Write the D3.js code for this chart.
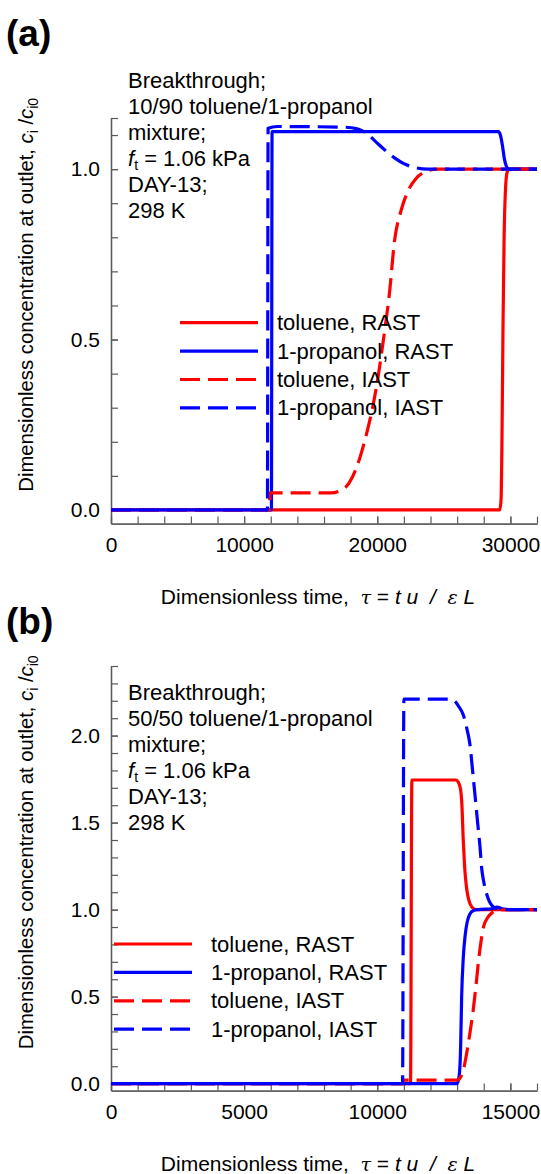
<!DOCTYPE html>
<html>
<head>
<meta charset="utf-8">
<script src="https://cdn.jsdelivr.net/npm/d3@7"></script>
<style>
  html, body { margin: 0; padding: 0; background: #fff; }
  svg { display: block; font-family: "Liberation Sans", Arial, sans-serif; }
  text { white-space: pre; }
</style>
</head>
<body>
<svg id="fig" width="541" height="1174"></svg>
<script>
// ---- Panel (a): 10/90 toluene/1-propanol breakthrough, points are [tau, c/c0]
const aTolueneRAST = [[0,0],[29200,0],[29300,0.03],[29380,0.25],[29450,0.55],[29530,0.8],[29620,0.93],[29750,0.99],[29900,1.0],[32000,1.0]];
const aPropanolRAST = [[0,0],[12050,0],[12100,1.11],[29100,1.11],[29250,1.1],[29400,1.07],[29550,1.03],[29700,1.008],[29900,1.0],[32000,1.0]];
const aTolueneIAST = [[0,0],[11900,0],[11950,0.05],[16500,0.05],[17300,0.058],[17900,0.08],[18400,0.12],[18900,0.18],[19300,0.24],[19700,0.31],[20100,0.40],[20500,0.51],[20900,0.63],[21300,0.79],[21800,0.88],[22300,0.935],[22900,0.972],[23500,0.99],[24500,1.0],[32000,1.0]];
const aPropanolIAST = [[0,0],[11750,0],[11800,1.12],[12500,1.125],[17500,1.123],[18500,1.118],[19200,1.105],[19900,1.08],[20600,1.055],[21300,1.033],[22000,1.016],[22800,1.005],[23800,1.0],[32000,1.0]];

// ---- Panel (b): 50/50 toluene/1-propanol breakthrough
const bTolueneRAST = [[0,0],[11250,0],[11300,1.745],[12950,1.745],[13050,1.73],[13130,1.69],[13180,1.6],[13230,1.4],[13280,1.25],[13350,1.13],[13430,1.06],[13550,1.015],[13700,1.0],[16000,1.0]];
const bPropanolRAST = [[0,0],[13000,0],[13080,0.05],[13130,0.2],[13170,0.5],[13230,0.72],[13300,0.85],[13380,0.93],[13480,0.975],[13620,0.995],[13800,1.0],[14300,1.005],[14500,1.015],[14700,1.005],[15000,1.0],[16000,1.0]];
const bTolueneIAST = [[0,0],[10950,0],[11000,0.02],[13000,0.02],[13200,0.06],[13330,0.15],[13470,0.28],[13610,0.43],[13720,0.58],[13800,0.70],[13900,0.82],[13990,0.9],[14150,0.955],[14300,0.98],[14600,0.997],[15000,1.0],[16000,1.0]];
const bPropanolIAST = [[0,0],[10950,0],[11000,2.21],[12700,2.21],[12900,2.2],[13050,2.17],[13230,2.12],[13380,2.03],[13480,1.95],[13580,1.8],[13670,1.66],[13770,1.5],[13860,1.36],[13920,1.24],[14000,1.16],[14110,1.09],[14200,1.05],[14300,1.025],[14450,1.008],[14700,1.0],[16000,1.0]];

// ---- Tick values
const aXMajor = [0, 10000, 20000, 30000];
const aXMinor = d3.range(0, 32001, 2000);
const aYMajor = [0, 0.5, 1.0];
const aYMinor = d3.range(0, 1.11, 0.1).concat([1.15]);
const bXMajor = [0, 5000, 10000, 15000];
const bXMinor = d3.range(0, 16001, 1000);
const bYMajor = [0, 0.5, 1.0, 1.5, 2.0];
const bYMinor = d3.range(0, 2.41, 0.1);

// ---- Series labels and annotation lines
const seriesNames = ["toluene, RAST", "1-propanol, RAST", "toluene, IAST", "1-propanol, IAST"];
const aNoteLines = ["Breakthrough;", "10/90 toluene/1-propanol", "mixture;", "FT", "DAY-13;", "298 K"];
const bNoteLines = ["Breakthrough;", "50/50 toluene/1-propanol", "mixture;", "FT", "DAY-13;", "298 K"];

const RED = "#ff0000", BLUE = "#0000ff";
const styles = [
  { color: RED,  dash: null },
  { color: BLUE, dash: null },
  { color: RED,  dash: "20,8" },
  { color: BLUE, dash: "20,8" }
];

const svg = d3.select("#fig");

function drawPanel(cfg) {
  const x = d3.scaleLinear().domain(cfg.xDomain).range([cfg.left, cfg.right]);
  const y = d3.scaleLinear().domain(cfg.yDomain).range([cfg.bottom, cfg.top]);
  const g = svg.append("g");

  // panel letter
  g.append("text").attr("x", 6).attr("y", cfg.letterY)
    .attr("font-size", 37).attr("font-weight", "bold").text(cfg.letter);

  // x axis: minor ticks then labelled ticks, all pointing inward
  const xMinor = g.append("g").attr("transform", `translate(0,${cfg.bottom})`)
    .call(d3.axisBottom(x).tickValues(cfg.xMinor).tickSize(-7).tickSizeOuter(0).tickFormat(""));
  const xMajor = g.append("g").attr("transform", `translate(0,${cfg.bottom})`)
    .call(d3.axisBottom(x).tickValues(cfg.xMajor).tickSize(-7).tickSizeOuter(0).tickPadding(13).tickFormat(d3.format("d")));
  const yMinor = g.append("g").attr("transform", `translate(${cfg.left},0)`)
    .call(d3.axisLeft(y).tickValues(cfg.yMinor).tickSize(-7).tickSizeOuter(0).tickFormat(""));
  const yMajor = g.append("g").attr("transform", `translate(${cfg.left},0)`)
    .call(d3.axisLeft(y).tickValues(cfg.yMajor).tickSize(-7).tickSizeOuter(0).tickPadding(11).tickFormat(d3.format(".1f")));
  [xMinor, xMajor, yMinor, yMajor].forEach(ax => {
    ax.selectAll("path.domain").attr("stroke", "#5a5a5a").attr("stroke-width", 1.3);
    ax.selectAll(".tick line").attr("stroke", "#5a5a5a").attr("stroke-width", 1.2);
    ax.selectAll("text").attr("font-size", 21).attr("fill", "#000")
      .attr("font-family", '"Liberation Sans", Arial, sans-serif');
  });

  // x axis title
  const xt = g.append("text").attr("x", (cfg.left + cfg.right) / 2 - 6).attr("y", cfg.bottom + 80)
    .attr("text-anchor", "middle").attr("font-size", 21);
  xt.append("tspan").text("Dimensionless time,  ");
  xt.append("tspan").attr("font-style", "italic").attr("font-family", '"DejaVu Serif", serif').attr("font-size", 19).text("τ");
  xt.append("tspan").text(" = ");
  xt.append("tspan").attr("font-style", "italic").text("t u  /  ");
  xt.append("tspan").attr("font-style", "italic").attr("font-family", '"DejaVu Serif", serif').attr("font-size", 19).text("ε");
  xt.append("tspan").attr("font-style", "italic").text(" L");

  // y axis title
  const cy = (cfg.top + cfg.bottom) / 2 - 26;
  const yt = g.append("text").attr("transform", `translate(33,${cy}) rotate(-90)`)
    .attr("text-anchor", "middle").attr("font-size", 20.3);
  yt.append("tspan").text("Dimensionless concentration at outlet, ");
  yt.append("tspan").attr("font-style", "italic").text("c");
  yt.append("tspan").attr("font-size", 14).attr("dy", 5).text("i");
  yt.append("tspan").attr("dy", -5).text(" /");
  yt.append("tspan").attr("font-style", "italic").text("c");
  yt.append("tspan").attr("font-size", 14).attr("dy", 5).text("i0");

  // annotation block
  cfg.notes.forEach((s, i) => {
    const t = g.append("text").attr("x", 128).attr("y", cfg.noteY + i * 26).attr("font-size", 22);
    if (s === "FT") {
      t.append("tspan").attr("font-style", "italic").text("f");
      t.append("tspan").attr("font-size", 14).attr("dy", 4).text("t");
      t.append("tspan").attr("dy", -4).text(" = 1.06 kPa");
    } else {
      t.text(s);
    }
  });

  // curves
  const line = d3.line().x(d => x(d[0])).y(d => y(d[1])).curve(d3.curveMonotoneX);
  cfg.series.forEach((data, i) => {
    g.append("path").datum(data).attr("d", line)
      .attr("fill", "none").attr("stroke", styles[i].color).attr("stroke-width", 3.2)
      .attr("stroke-linejoin", "round")
      .attr("stroke-dasharray", styles[i].dash);
  });

  // legend
  seriesNames.forEach((name, i) => {
    const ly = cfg.legendY + i * 28.4;
    g.append("line").attr("x1", cfg.legendX).attr("x2", cfg.legendX + 78)
      .attr("y1", ly).attr("y2", ly)
      .attr("stroke", styles[i].color).attr("stroke-width", 3.2)
      .attr("stroke-dasharray", styles[i].dash);
    g.append("text").attr("x", cfg.legendX + 97).attr("y", ly + 7.5)
      .attr("font-size", 22).text(name);
  });
}

drawPanel({
  letter: "(a)", letterY: 46,
  xDomain: [0, 32000], yDomain: [-0.04, 1.15],
  left: 111, right: 537, top: 118, bottom: 523.6,
  xMajor: aXMajor, xMinor: aXMinor, yMajor: aYMajor, yMinor: aYMinor,
  notes: aNoteLines, noteY: 88,
  series: [aTolueneRAST, aPropanolRAST, aTolueneIAST, aPropanolIAST],
  legendX: 180, legendY: 322.7
});

drawPanel({
  letter: "(b)", letterY: 634,
  xDomain: [0, 16000], yDomain: [-0.04, 2.4],
  left: 111, right: 537, top: 666, bottom: 1090.6,
  xMajor: bXMajor, xMinor: bXMinor, yMajor: bYMajor, yMinor: bYMinor,
  notes: bNoteLines, noteY: 700,
  series: [bTolueneRAST, bPropanolRAST, bTolueneIAST, bPropanolIAST],
  legendX: 114, legendY: 944
});
</script>
</body>
</html>
